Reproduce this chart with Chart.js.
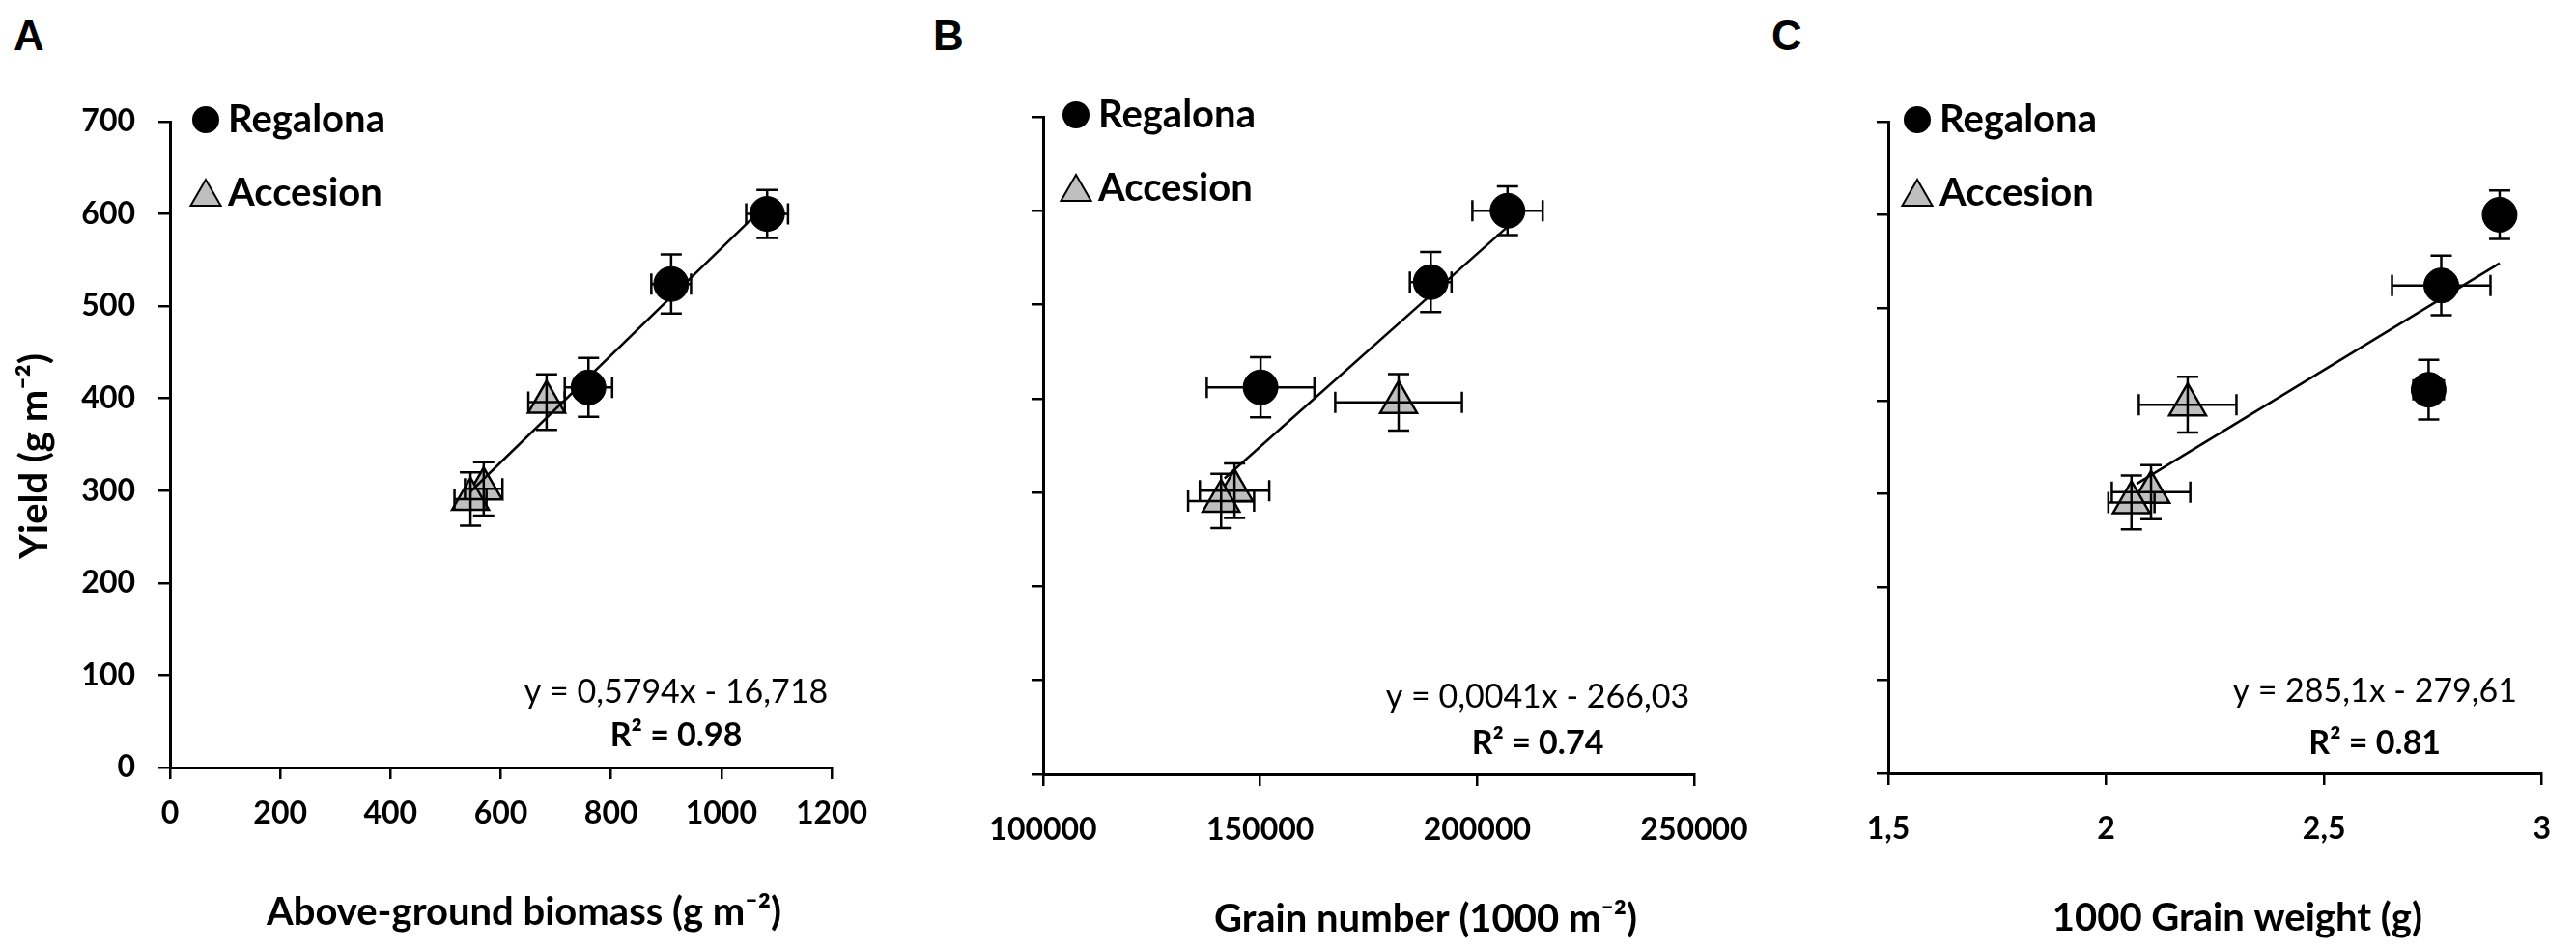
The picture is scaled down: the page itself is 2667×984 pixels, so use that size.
<!DOCTYPE html>
<html>
<head>
<meta charset="utf-8">
<script src="https://cdn.jsdelivr.net/npm/chart.js@4.4.1/dist/chart.umd.min.js"></script>
<style>
    html, body { margin: 0; padding: 0; background: #fff; }
    body { width: 2667px; height: 984px; position: relative; overflow: hidden; }
    .panel { position: absolute; top: 0; height: 984px; }
    .letter { position: absolute; top: 12px; font: bold 44px "Liberation Sans", Arial, sans-serif; color: #000; }
</style>
</head>
<body>
<div class="letter" style="left:14px">A</div>
<div class="letter" style="left:966px">B</div>
<div class="letter" style="left:1834px">C</div>
<div class="panel" style="left:0px;width:940px"><canvas id="chartA" width="940" height="984"></canvas></div>
<div class="panel" style="left:900px;width:940px"><canvas id="chartB" width="940" height="984"></canvas></div>
<div class="panel" style="left:1780px;width:887px"><canvas id="chartC" width="887" height="984"></canvas></div>
<script>
// Series names
const seriesNames = ['Regalona', 'Accesion'];

// Yield (g m-2), shared by all panels
const yieldRegalona = [600, 524, 412];
const yieldRegalonaErr = [26, 32, 32];
const yieldAccesion = [396, 302, 291];
const yieldAccesionErr = [30, 29, 29];
const yTickValues = [0, 100, 200, 300, 400, 500, 600, 700];

// Panel A: above-ground biomass
const biomassRegalona = [1083, 909, 759];
const biomassRegalonaErr = [38, 36, 43];
const biomassAccesion = [683, 569, 545];
const biomassAccesionErr = [33, 34, 29];
const biomassTicks = [0, 200, 400, 600, 800, 1000, 1200];
const trendBiomassX = [545, 1083];
const trendBiomassY = [299, 611];

// Panel B: grain number
const grainNumRegalona = [207000, 189300, 150100];
const grainNumRegalonaErr = [8100, 4800, 12400];
const grainNumAccesion = [181900, 144100, 141000];
const grainNumAccesionErr = [14600, 8000, 7600];
const grainNumTicks = [100000, 150000, 200000, 250000];
const trendGrainNumX = [141800, 207000];
const trendGrainNumY = [315, 583];

// Panel C: 1000 grain weight
const grainWtRegalona = [2.903, 2.769, 2.740];
const grainWtRegalonaErr = [0, 0.113, 0.035];
const grainWtAccesion = [2.187, 2.103, 2.058];
const grainWtAccesionErr = [0.112, 0.09, 0.053];
const grainWtTicks = [1.5, 2, 2.5, 3];
const trendGrainWtX = [2.07, 2.903];
const trendGrainWtY = [311, 548];

const tickFont = { family: 'Lato', size: 32, weight: 'bold' };

const drawTriangle = (ctx, x, y, r, fill, lw) => {
    ctx.beginPath();
    ctx.moveTo(x, y - r);
    ctx.lineTo(x + r * Math.sin(Math.PI / 3), y + r / 2);
    ctx.lineTo(x - r * Math.sin(Math.PI / 3), y + r / 2);
    ctx.closePath();
    ctx.fillStyle = fill;
    ctx.fill();
    ctx.lineWidth = lw;
    ctx.strokeStyle = '#000';
    ctx.stroke();
};

// Error bars, legend, equation and axis titles
const panelDeco = {
    id: 'panelDeco',
    afterDatasetsDraw (chart, args, opts) {
        const ctx = chart.ctx;
        const xs = chart.scales.x;
        const ys = chart.scales.y;
        const area = chart.chartArea;
        const cap = 11;
        ctx.save();

        // Error bars
        ctx.strokeStyle = '#000';
        ctx.lineWidth = 2.5;
        opts.errors.forEach((e) => {
            e.x.forEach((xv, i) => {
                const px = xs.getPixelForValue(xv);
                const py = ys.getPixelForValue(e.y[i]);
                ctx.beginPath();
                if (e.xErr[i] > 0) {
                    const x0 = xs.getPixelForValue(xv - e.xErr[i]);
                    const x1 = xs.getPixelForValue(xv + e.xErr[i]);
                    ctx.moveTo(x0, py); ctx.lineTo(x1, py);
                    ctx.moveTo(x0, py - cap); ctx.lineTo(x0, py + cap);
                    ctx.moveTo(x1, py - cap); ctx.lineTo(x1, py + cap);
                }
                const y0 = ys.getPixelForValue(e.y[i] - e.yErr[i]);
                const y1 = ys.getPixelForValue(e.y[i] + e.yErr[i]);
                ctx.moveTo(px, y0); ctx.lineTo(px, y1);
                ctx.moveTo(px - cap, y0); ctx.lineTo(px + cap, y0);
                ctx.moveTo(px - cap, y1); ctx.lineTo(px + cap, y1);
                ctx.stroke();
            });
        });

        // Legend inside the plot
        const lx = area.left + opts.legendDx;
        ctx.beginPath();
        ctx.arc(lx, area.top - 2, 14, 0, Math.PI * 2);
        ctx.fillStyle = '#000';
        ctx.fill();
        drawTriangle(ctx, lx, area.top + 78, 18, '#bfbfbf', 2);
        ctx.fillStyle = '#000';
        ctx.font = 'bold 40px Lato';
        ctx.textAlign = 'left';
        ctx.textBaseline = 'middle';
        ctx.fillText(seriesNames[0], lx + 23, area.top - 2);
        ctx.fillText(seriesNames[1], lx + 23, area.top + 74);

        // Regression text
        ctx.textAlign = 'center';
        ctx.font = '34px Lato';
        ctx.fillText(opts.equation, area.right - opts.eqDx, area.bottom - opts.eqDy);
        ctx.font = 'bold 34px Lato';
        ctx.fillText(opts.r2, area.right - opts.eqDx, area.bottom - opts.r2Dy);

        // Axis titles
        ctx.font = 'bold 40px Lato';
        ctx.fillText(opts.xTitle, (area.left + area.right) / 2 + opts.xTitleDx, area.bottom + 150);
        if (opts.yTitle) {
            ctx.translate(area.left - 140, (area.top + area.bottom) / 2 + 12);
            ctx.rotate(-Math.PI / 2);
            ctx.fillText(opts.yTitle, 0, 0);
        }
        ctx.restore();
    }
};

const makePanel = (canvasId, p) => {
    const fixTicks = (arr) => (scale) => { scale.ticks = arr.map((v) => ({ value: v })); };
    return new Chart(document.getElementById(canvasId), {
        type: 'scatter',
        data: {
            datasets: [
                {
                    label: 'trend',
                    data: p.trendX.map((v, i) => ({ x: v, y: p.trendY[i] })),
                    showLine: true,
                    borderColor: '#000',
                    borderWidth: 2.5,
                    pointRadius: 0
                },
                {
                    label: seriesNames[0],
                    data: p.regX.map((v, i) => ({ x: v, y: yieldRegalona[i] })),
                    pointStyle: 'circle',
                    pointRadius: 18,
                    backgroundColor: '#000',
                    borderColor: '#000',
                    borderWidth: 1
                },
                {
                    label: seriesNames[1],
                    data: p.accX.map((v, i) => ({ x: v, y: yieldAccesion[i] })),
                    pointStyle: 'triangle',
                    pointRadius: 22,
                    backgroundColor: '#bfbfbf',
                    borderColor: '#000',
                    borderWidth: 2.5
                }
            ]
        },
        options: {
            responsive: false,
            devicePixelRatio: 1,
            animation: false,
            events: [],
            layout: { padding: { left: 0, top: p.top, right: p.right, bottom: 0 } },
            scales: {
                x: {
                    type: 'linear',
                    min: p.xTicks[0],
                    max: p.xTicks[p.xTicks.length - 1],
                    afterBuildTicks: fixTicks(p.xTicks),
                    afterFit: (s) => { s.height = p.xHeight; },
                    border: { display: true, color: '#000', width: 3 },
                    grid: { drawOnChartArea: false, drawTicks: true, tickLength: 12, color: '#000', lineWidth: 2.5 },
                    ticks: {
                        font: tickFont,
                        color: '#000',
                        padding: p.xPad,
                        maxRotation: 0,
                        autoSkip: false,
                        callback: (v) => String(v).replace('.', ',')
                    }
                },
                y: {
                    type: 'linear',
                    min: 0,
                    max: 700,
                    afterBuildTicks: fixTicks(yTickValues),
                    afterFit: (s) => { s.width = p.yWidth; },
                    border: { display: true, color: '#000', width: 3 },
                    grid: { drawOnChartArea: false, drawTicks: true, tickLength: 12, color: '#000', lineWidth: 2.5 },
                    ticks: { display: p.yLabels, font: tickFont, color: '#000', padding: 24 }
                }
            },
            plugins: {
                legend: { display: false },
                tooltip: { enabled: false },
                panelDeco: {
                    errors: [
                        { x: p.regX, xErr: p.regXErr, y: yieldRegalona, yErr: yieldRegalonaErr },
                        { x: p.accX, xErr: p.accXErr, y: yieldAccesion, yErr: yieldAccesionErr }
                    ],
                    legendDx: p.legendDx,
                    equation: p.equation,
                    r2: p.r2,
                    eqDx: p.eqDx,
                    eqDy: p.eqDy,
                    r2Dy: p.r2Dy,
                    xTitle: p.xTitle,
                    xTitleDx: p.xTitleDx,
                    yTitle: p.yTitle
                }
            }
        },
        plugins: [panelDeco]
    });
};

makePanel('chartA', {
    regX: biomassRegalona, regXErr: biomassRegalonaErr,
    accX: biomassAccesion, accXErr: biomassAccesionErr,
    trendX: trendBiomassX, trendY: trendBiomassY,
    xTicks: biomassTicks,
    top: 126, right: 79, xHeight: 189, yWidth: 176, xPad: 16, yLabels: true,
    legendDx: 37,
    equation: 'y = 0,5794x - 16,718', r2: 'R² = 0.98', eqDx: 161, eqDy: 78, r2Dy: 33,
    xTitle: 'Above-ground biomass (g m⁻²)', xTitleDx: 24,
    yTitle: 'Yield (g m⁻²)'
});

makePanel('chartB', {
    regX: grainNumRegalona, regXErr: grainNumRegalonaErr,
    accX: grainNumAccesion, accXErr: grainNumAccesionErr,
    trendX: trendGrainNumX, trendY: trendGrainNumY,
    xTicks: grainNumTicks,
    top: 121, right: 86, xHeight: 182, yWidth: 180, xPad: 26, yLabels: false,
    legendDx: 34,
    equation: 'y = 0,0041x - 266,03', r2: 'R² = 0.74', eqDx: 162, eqDy: 80, r2Dy: 32,
    xTitle: 'Grain number (1000 m⁻²)', xTitleDx: 59,
    yTitle: null
});

makePanel('chartC', {
    regX: grainWtRegalona, regXErr: grainWtRegalonaErr,
    accX: grainWtAccesion, accXErr: grainWtAccesionErr,
    trendX: trendGrainWtX, trendY: trendGrainWtY,
    xTicks: grainWtTicks,
    top: 126, right: 18, xHeight: 183, yWidth: 175, xPad: 26, yLabels: false,
    legendDx: 30,
    equation: 'y = 285,1x - 279,61', r2: 'R² = 0.81', eqDx: 173, eqDy: 85, r2Dy: 31,
    xTitle: '1000 Grain weight (g)', xTitleDx: 23,
    yTitle: null
});
</script>
</body>
</html>
